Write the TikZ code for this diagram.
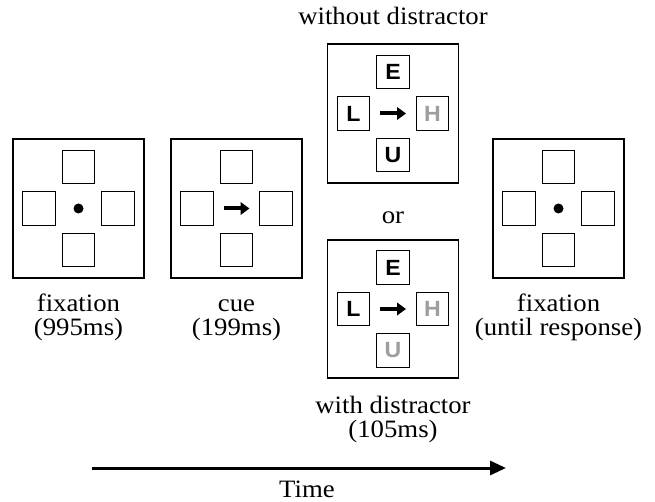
\documentclass[tikz,border=0pt]{standalone}
\usepackage{fontspec}
\setmainfont{Liberation Serif}[FakeStretch=1.07]
\newfontfamily\lsans{Liberation Sans}[FakeStretch=1.05]
\usetikzlibrary{arrows.meta,calc}
\definecolor{dimgray}{gray}{0.62}
\begin{document}
\begin{tikzpicture}[x=1pt,y=-1pt,
  frame/.style={draw, line width=1.3pt, minimum width=131pt, minimum height=139pt, inner sep=0pt},
  slot/.style={draw, line width=1.3pt, minimum width=32.5pt, minimum height=33.5pt, inner sep=0pt,
               font=\lsans\bfseries\fontsize{22}{22}\selectfont},
  lbl/.style={font=\fontsize{25}{25}\selectfont, anchor=base, inner sep=0pt},
  fixdot/.style={circle, fill, minimum size=10pt, inner sep=0pt},
  cuearrow/.style={line width=4pt, -{Triangle[length=9pt,width=12.5pt]}},
  timearrow/.style={line width=3pt, -{Triangle[length=16pt,width=14pt]}}]
\useasboundingbox (0,0) rectangle (655,502);

\newcommand\myslots[5]{%
  \node[slot] (#1t) at ($(#1)+(0,-41.5)$) {#2};
  \node[slot] (#1l) at ($(#1)+(-39.5,0)$) {#3};
  \node[slot] (#1r) at ($(#1)+(39.5,0)$) {#4};
  \node[slot] (#1b) at ($(#1)+(0,41.5)$) {#5};}

% frames
\node[frame] (f1) at (78.5,208.5) {};
\node[frame] (f2) at (236.5,208.5) {};
\node[frame] (f3a) at (393,113.5) {};
\node[frame, minimum height=138pt] (f3b) at (393,309) {};
\node[frame] (f4) at (558.5,208.5) {};

\myslots{f1}{}{}{}{}
\myslots{f2}{}{}{}{}
\myslots{f3a}{E}{L}{\textcolor{dimgray}{H}}{U}
\myslots{f3b}{E}{L}{\textcolor{dimgray}{H}}{\textcolor{dimgray}{U}}
\myslots{f4}{}{}{}{}

% fixation dots
\node[fixdot] (d1) at (f1) {};
\node[fixdot] (d4) at (f4) {};

% cue arrows
\coordinate (c2s) at ($(f2)+(-13,0)$); \coordinate (c2e) at ($(f2)+(13,0)$);
\draw[cuearrow] (c2s) -- (c2e);
\coordinate (c3as) at ($(f3a)+(-13,0)$); \coordinate (c3ae) at ($(f3a)+(13,0)$);
\draw[cuearrow] (c3as) -- (c3ae);
\coordinate (c3bs) at ($(f3b)+(-13,0)$); \coordinate (c3be) at ($(f3b)+(13,0)$);
\draw[cuearrow] (c3bs) -- (c3be);

% labels
\node[lbl] (tw) at (393,25) {without distractor};
\node[lbl] (tor) at (393,224) {or};
\node[lbl] (t1a) at (78.5,311) {fixation};
\node[lbl] (t1b) at (78.5,335) {(995ms)};
\node[lbl] (t2a) at (236.5,311) {cue};
\node[lbl] (t2b) at (236.5,335) {(199ms)};
\node[lbl] (t3a) at (393,413) {with distractor};
\node[lbl] (t3b) at (393,437) {(105ms)};
\node[lbl] (t4a) at (558.5,311) {fixation};
\node[lbl] (t4b) at (558.5,335) {(until response)};

% time axis
\coordinate (ts) at (92,468);
\coordinate (te) at (506,468);
\draw[timearrow] (ts) -- (te);
\node[lbl] (time) at (307,497) {Time};
\end{tikzpicture}
\end{document}
